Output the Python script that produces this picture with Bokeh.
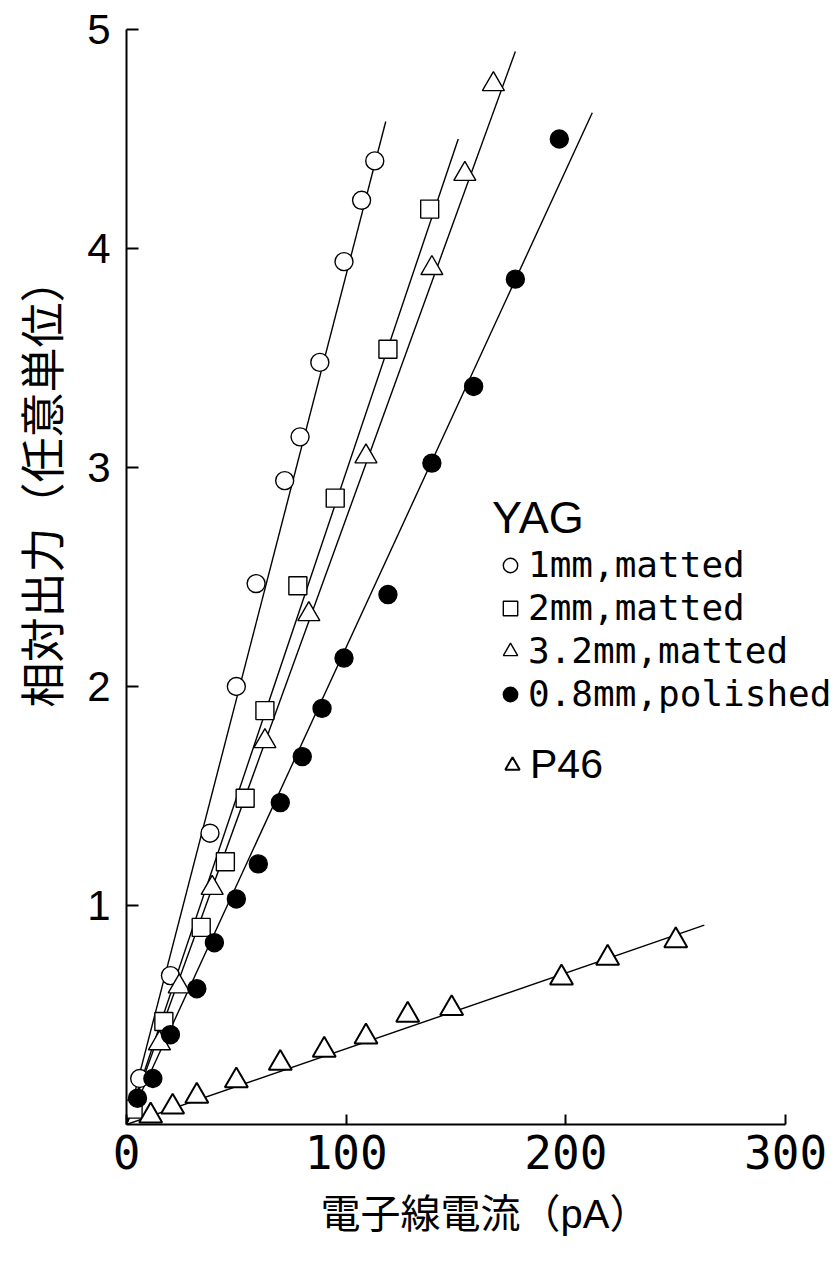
from bokeh.plotting import figure
from bokeh.models import Range1d, FixedTicker, Legend, LegendItem, Title
from bokeh.embed import file_html
from bokeh.resources import INLINE

# ---- data ----
# YAG 1mm, matted (open circles)
c1_x = [6, 20, 38, 50, 59, 72, 79, 88, 99, 107, 113]
c1_y = [0.21, 0.68, 1.33, 2.00, 2.47, 2.94, 3.14, 3.48, 3.94, 4.22, 4.40]
c1_fit_x = [0, 118]
c1_fit_y = [0, 4.58]

# YAG 2mm, matted (open squares)
s2_x = [3, 17, 34, 45, 54, 63, 78, 95, 119, 138]
s2_y = [0.07, 0.47, 0.90, 1.20, 1.49, 1.89, 2.46, 2.86, 3.54, 4.18]
s2_fit_x = [0, 151]
s2_fit_y = [0, 4.50]

# YAG 3.2mm, matted (open triangles)
t3_x = [15, 24, 39, 63, 83, 109, 139, 154, 167]
t3_y = [0.37, 0.63, 1.08, 1.75, 2.33, 3.05, 3.91, 4.34, 4.75]
t3_fit_x = [0, 177]
t3_fit_y = [0, 4.90]

# YAG 0.8mm, polished (filled circles)
f08_x = [5, 12, 20, 32, 40, 50, 60, 70, 80, 89, 99, 119, 139, 158, 177, 197]
f08_y = [0.12, 0.21, 0.41, 0.62, 0.83, 1.03, 1.19, 1.47, 1.68, 1.90, 2.13, 2.42, 3.02, 3.37, 3.86, 4.50]
f08_fit_x = [0, 212]
f08_fit_y = [0, 4.62]

# P46 (open triangles)
p46_x = [11, 21, 32, 50, 70, 90, 109, 128, 148, 198, 219, 250]
p46_y = [0.04, 0.08, 0.13, 0.20, 0.28, 0.34, 0.40, 0.50, 0.53, 0.67, 0.76, 0.84]
p46_fit_x = [0, 263]
p46_fit_y = [0, 0.91]

x_ticks = [0, 100, 200, 300]
y_ticks = [1, 2, 3, 4, 5]
x_axis_span = (0, 300)
y_axis_span = (0, 5)

x_label = "電子線電流（pA）"
y_label = "相対出力（任意単位）"
legend_title = "YAG"
labels = ["1mm,matted", "2mm,matted", "3.2mm,matted", "0.8mm,polished"]
p46_label = "P46"

# ---- figure ----
W, H = 836, 1262
LEFT, TOP = 126, 29
FRAME_H = 1095
PX_PER_X = 2.197
p = figure(width=W, height=H, output_backend="svg", toolbar_location=None,
           x_range=Range1d(0, (W - LEFT) / PX_PER_X), y_range=Range1d(0, 5),
           min_border_left=LEFT, min_border_right=0, min_border_top=TOP,
           min_border_bottom=H - TOP - FRAME_H)
p.outline_line_color = None
p.xgrid.visible = False
p.ygrid.visible = False
p.background_fill_color = "white"
p.border_fill_color = "white"

for ax in (p.xaxis[0], p.yaxis[0]):
    ax.axis_line_width = 2
    ax.axis_line_color = "black"
    ax.major_tick_line_width = 2
    ax.major_tick_line_color = "black"
    ax.major_tick_out = 0
    ax.minor_tick_line_color = None
    ax.major_label_text_color = "black"

p.xaxis.bounds = x_axis_span
p.xaxis.ticker = FixedTicker(ticks=x_ticks)
p.xaxis.major_tick_in = 10
p.xaxis.major_label_text_font = "DejaVu Sans Mono"
p.xaxis.major_label_text_font_size = "46px"
p.xaxis.major_label_standoff = 10

p.yaxis.bounds = y_axis_span
p.yaxis.ticker = FixedTicker(ticks=y_ticks)
p.yaxis.major_tick_in = 12
p.yaxis.major_label_text_font = "Liberation Sans"
p.yaxis.major_label_text_font_size = "42px"
p.yaxis.major_label_standoff = 16

lw = 1.4
for fx, fy in [(c1_fit_x, c1_fit_y), (s2_fit_x, s2_fit_y), (t3_fit_x, t3_fit_y),
               (f08_fit_x, f08_fit_y), (p46_fit_x, p46_fit_y)]:
    p.line(fx, fy, line_color="black", line_width=lw)

r_c1 = p.scatter(c1_x, c1_y, marker="circle", size=18, fill_color="white",
                 line_color="black", line_width=lw)
r_s2 = p.scatter(s2_x, s2_y, marker="square", size=18, fill_color="white",
                 line_color="black", line_width=lw)
r_t3 = p.scatter(t3_x, t3_y, marker="triangle", size=22, fill_color="white",
                 line_color="black", line_width=lw)
r_f08 = p.scatter(f08_x, f08_y, marker="circle", size=18, fill_color="black",
                  line_color="black", line_width=lw)
r_p46 = p.scatter(p46_x, p46_y, marker="triangle", size=23, fill_color="white",
                  line_color="black", line_width=2)

leg1 = Legend(items=[LegendItem(label=labels[0], renderers=[r_c1]),
                     LegendItem(label=labels[1], renderers=[r_s2]),
                     LegendItem(label=labels[2], renderers=[r_t3]),
                     LegendItem(label=labels[3], renderers=[r_f08])],
              title=legend_title, location=(366, 410),
              border_line_color=None, background_fill_alpha=0,
              padding=0, margin=0, spacing=2, label_standoff=0,
              glyph_width=36, glyph_height=40,
              label_text_font="DejaVu Sans Mono", label_text_font_size="36px",
              label_text_color="black",
              title_text_font="Liberation Sans", title_text_font_size="45px",
              title_text_font_style="normal", title_text_color="black",
              title_standoff=0)
p.add_layout(leg1)

leg2 = Legend(items=[LegendItem(label=p46_label, renderers=[r_p46])],
              location=(368, 336),
              border_line_color=None, background_fill_alpha=0,
              padding=0, margin=0, spacing=0, label_standoff=0,
              glyph_width=36, glyph_height=40,
              label_text_font="Liberation Sans", label_text_font_size="41px",
              label_text_color="black")
p.add_layout(leg2)

label_font = "Liberation Sans, Noto Sans CJK JP"
xt = Title(text=x_label, align="left", offset=194, standoff=36,
           text_font=label_font, text_font_size="40px",
           text_font_style="normal", text_color="black")
p.add_layout(xt, "below")
yt = Title(text=y_label, align="left", offset=417, standoff=30,
           text_font=label_font, text_font_size="45px",
           text_font_style="normal", text_color="black")
p.add_layout(yt, "left")

open("out.html", "w").write(file_html(p, INLINE))
